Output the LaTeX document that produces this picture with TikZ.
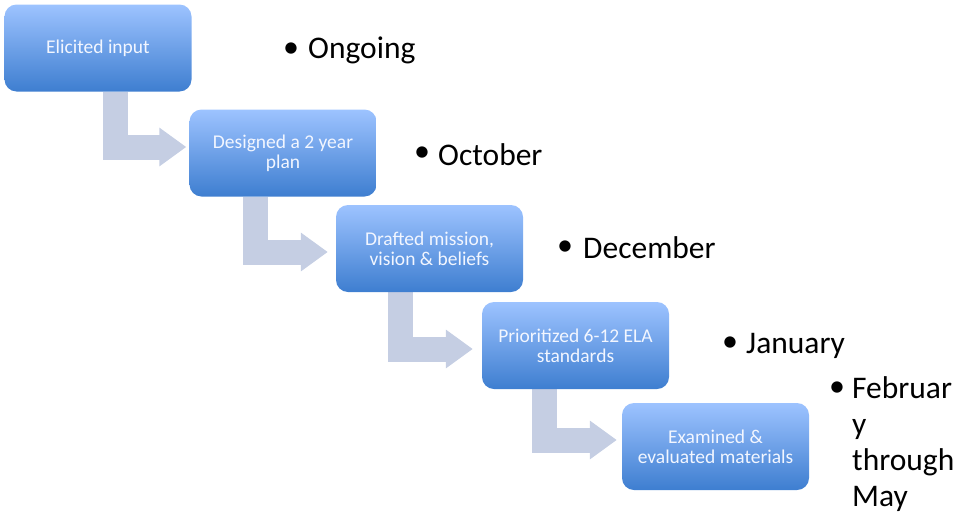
\documentclass[tikz,border=0pt]{standalone}
\usepackage{fontspec}
\setmainfont{Carlito}
\usetikzlibrary{arrows.meta,backgrounds}
\definecolor{boxtop}{RGB}{157,195,255}
\definecolor{boxbot}{RGB}{62,126,208}
\definecolor{boxtext}{RGB}{242,246,255}
\definecolor{bentgray}{RGB}{197,206,227}
\tikzset{
  stage/.style={rounded corners=12pt, minimum width=187pt, minimum height=87pt, inner sep=0pt,
    top color=boxtop, bottom color=boxbot, text=boxtext, align=center,
    font=\fontsize{19.5}{20}\selectfont},
  bentarrow/.style={bentgray, line width=25pt, line join=miter, -{Triangle[length=27pt,width=37pt]}},
  bulletmark/.style={inner sep=0pt, font=\fontsize{32}{36}\selectfont},
  datetext/.style={anchor=base west, inner sep=0pt, align=left, font=\fontsize{31.5}{36}\selectfont}
}
\begin{document}
\begin{tikzpicture}[x=1pt,y=-1pt]
\useasboundingbox (0,0) rectangle (960,514);
\node[stage](E1)at(98,48){Elicited input};
\node[stage](E2)at(283,153){Designed a 2 year\\plan};
\node[stage](E3)at(429.5,248.5){Drafted mission,\\vision \& beliefs};
\node[stage](E4)at(575.5,345.5){Prioritized 6-12 ELA\\standards};
\node[stage](E5)at(715.5,446.5){Examined \&\\evaluated materials};
%
\begin{scope}[on background layer]
\draw[bentarrow]([xshift=17pt]E1.south) |- ([xshift=-3pt, yshift=6pt]E2.west);
\draw[bentarrow]([xshift=-28pt]E2.south) |- ([xshift=-8pt, yshift=-3.5pt]E3.west);
\draw[bentarrow]([xshift=-29.5pt]E3.south) |- ([xshift=-9pt, yshift=-3.5pt]E4.west);
\draw[bentarrow]([xshift=-31pt]E4.south) |- ([xshift=-5pt, yshift=6.5pt]E5.west);
\end{scope}
%
\node[bulletmark](B1)at(291,50){•};
\node[datetext](D1)at(308,58){Ongoing};
\node[bulletmark](B2)at(422,154){•};
\node[datetext](D2)at(438,165){October};
\node[bulletmark](B3)at(565,248){•};
\node[datetext](D3)at(583,258){December};
\node[bulletmark](B4)at(730,344){•};
\node[datetext](D4)at(746,353){January};
\node[bulletmark](B5)at(837,389){•};
\node[datetext](D5)at(852,506){Februar\\y\\through\\May};
\end{tikzpicture}
\end{document}
